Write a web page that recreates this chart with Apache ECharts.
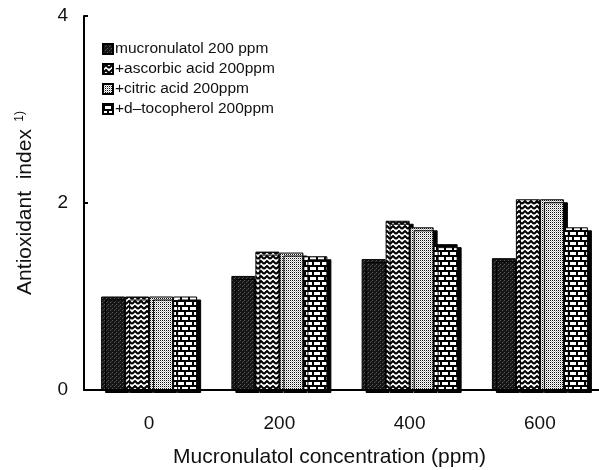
<!DOCTYPE html>
<html>
<head>
<meta charset="utf-8">
<script src="https://cdn.jsdelivr.net/npm/echarts@6/dist/echarts.min.js"></script>
<style>
  html, body { margin: 0; padding: 0; background: #fff; }
  #chart { width: 599px; height: 470px; }
</style>
</head>
<body>
<div id="chart"></div>
<script>
const categories = ['0', '200', '400', '600'];
const seriesNames = [
  'mucronulatol 200 ppm',
  '+ascorbic acid 200ppm',
  '+citric acid 200ppm',
  '+d\u2013tocopherol 200ppm',
];
const mucronulatol = [1.0, 1.22, 1.40, 1.41];
const ascorbic = [1.0, 1.48, 1.81, 2.04];
const citric = [1.0, 1.47, 1.74, 2.04];
const tocopherol = [1.0, 1.43, 1.56, 1.74];

const FONT = 'Liberation Sans, Arial, sans-serif';

// small canvases used as repeating fill patterns
function makePattern(w, h, draw) {
  const c = document.createElement('canvas');
  c.width = w;
  c.height = h;
  const ctx = c.getContext('2d');
  draw(ctx);
  return { image: c, repeat: 'repeat' };
}

const darkPattern = makePattern(4, 4, (ctx) => {
  ctx.fillStyle = '#151515';
  ctx.fillRect(0, 0, 4, 4);
  ctx.fillStyle = '#5a5a5a';
  ctx.fillRect(0, 0, 1, 1);
  ctx.fillRect(2, 2, 1, 1);
  ctx.fillStyle = '#3a3a3a';
  ctx.fillRect(3, 1, 1, 1);
});

const zigzagPattern = makePattern(6, 5, (ctx) => {
  ctx.fillStyle = '#fff';
  ctx.fillRect(0, 0, 6, 5);
  ctx.strokeStyle = '#000';
  ctx.lineWidth = 2;
  ctx.beginPath();
  ctx.moveTo(0, 4);
  ctx.lineTo(3, 1);
  ctx.lineTo(6, 4);
  ctx.stroke();
});

const dotPattern = makePattern(2, 2, (ctx) => {
  ctx.fillStyle = '#fff';
  ctx.fillRect(0, 0, 2, 2);
  ctx.fillStyle = '#111';
  ctx.fillRect(0, 0, 1, 1);
  ctx.fillStyle = '#bbb';
  ctx.fillRect(1, 1, 1, 1);
});

const brickPattern = makePattern(8, 10, (ctx) => {
  ctx.fillStyle = '#fff';
  ctx.fillRect(0, 0, 8, 10);
  ctx.fillStyle = '#000';
  ctx.fillRect(0, 0, 8, 2);
  ctx.fillRect(0, 5, 8, 2);
  ctx.fillRect(0, 0, 2, 5);
  ctx.fillRect(4, 5, 2, 5);
});

const patterns = [darkPattern, zigzagPattern, dotPattern, brickPattern];
const values = [mucronulatol, ascorbic, citric, tocopherol];

const chart = echarts.init(document.getElementById('chart'), null, { renderer: 'canvas' });

const series = values.map((data, i) => ({
  type: 'bar',
  name: seriesNames[i],
  data,
  barWidth: 24,
  barGap: '0%',
  itemStyle: {
    color: patterns[i],
    borderColor: '#000',
    borderWidth: 1,
    shadowColor: '#000',
    shadowOffsetX: 4,
    shadowOffsetY: 3,
    shadowBlur: 0,
  },
  emphasis: { disabled: true },
}));

chart.setOption({
  animation: false,
  backgroundColor: '#fff',
  grid: { left: 84, right: -6, top: 16, bottom: 80, outerBoundsMode: 'none', containLabel: false },
  legend: {
    orient: 'vertical',
    left: 97,
    top: 36,
    itemWidth: 10,
    itemHeight: 10,
    itemGap: 4,
    icon: 'rect',
    itemStyle: { shadowOffsetX: 0, shadowOffsetY: 0, shadowColor: 'transparent' },
    textStyle: { fontFamily: FONT, fontSize: 15.5, color: '#111', padding: [0, 0, 0, -3] },
    data: seriesNames,
  },
  xAxis: {
    type: 'category',
    data: categories,
    name: 'Mucronulatol concentration (ppm)',
    nameLocation: 'middle',
    nameGap: 57,
    nameTextStyle: { fontFamily: FONT, fontSize: 21, color: '#111', padding: [0, 30, 0, 0] },
    axisLine: { lineStyle: { color: '#000', width: 2 } },
    axisTick: { inside: true, length: 5, lineStyle: { color: '#000', width: 2 } },
    axisLabel: { fontFamily: FONT, fontSize: 19, color: '#111', margin: 24 },
  },
  yAxis: {
    type: 'value',
    min: 0,
    max: 4,
    interval: 2,
    name: '{a|Antioxidant  index} {s|1)}',
    nameLocation: 'middle',
    nameGap: 48,
    nameRotate: 90,
    nameTextStyle: {
      rich: {
        a: { fontFamily: FONT, fontSize: 21, color: '#111' },
        s: { fontFamily: FONT, fontSize: 12, color: '#111', verticalAlign: 'top', padding: [0, 0, 10, 4] },
      },
    },
    splitLine: { show: false },
    axisLine: { show: true, lineStyle: { color: '#000', width: 2 } },
    axisTick: { show: true, inside: true, length: 4, lineStyle: { color: '#000', width: 2 } },
    axisLabel: { fontFamily: FONT, fontSize: 19, color: '#111', margin: 16 },
  },
  series,
});
</script>
</body>
</html>
